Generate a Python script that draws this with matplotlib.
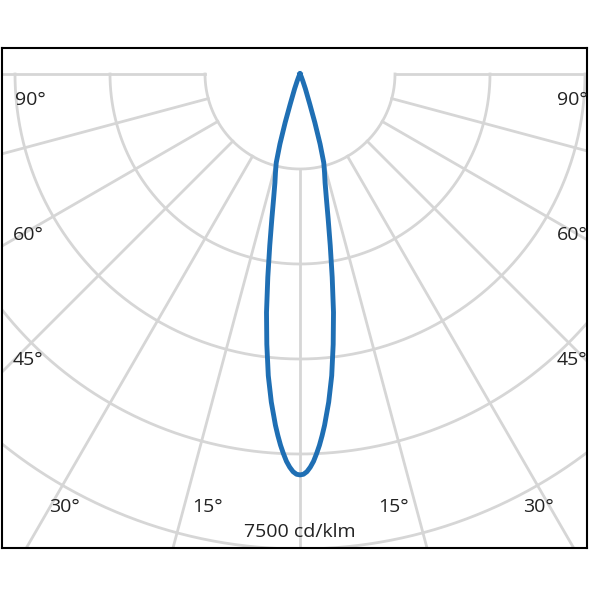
import numpy as np
import matplotlib
matplotlib.use("Agg")
import matplotlib.pyplot as plt

# Luminous intensity (cd/klm) vs angle from nadir (degrees)
angles_deg = [0, 0.5, 1, 1.5, 2, 2.5, 3, 3.5, 4, 5, 6, 7, 8, 9, 10, 11, 12, 13, 14, 15, 16, 17, 18, 20, 22, 25, 30, 90]
intensity_blue = [6330, 6320, 6280, 6210, 6120, 6000, 5870, 5720, 5560, 5200, 4790, 4300, 3800, 3250,
                  2750, 2330, 2000, 1760, 1600, 1450, 1150, 800, 500, 250, 120, 50, 0, 0]
intensity_red = [6330, 6320, 6275, 6200, 6105, 5985, 5855, 5705, 5545, 5185, 4775, 4290, 3790, 3240,
                 2745, 2325, 1995, 1755, 1595, 1445, 1145, 795, 500, 250, 120, 50, 0, 0]
ring_values = [1500, 3000, 4500, 6000, 7500, 9000]
grid_angles = list(range(-90, 91, 15))
scale_label = "7500 cd/klm"
angle_labels = [("90°", 30, 100), ("90°", 572, 100), ("60°", 28, 235), ("60°", 572, 235),
                ("45°", 28, 360), ("45°", 572, 360), ("30°", 64, 507), ("15°", 208, 507),
                ("15°", 394, 507), ("30°", 538, 507)]

px = 7500 / 475.0  # cd per pixel
fig = plt.figure(figsize=(6, 6), dpi=100)
ax = fig.add_axes([2/600, 52/600, 585/600, 500/600])
ax.set_xlim((2-300)*px, (587-300)*px)
ax.set_ylim((548-74)*px, (48-74)*px)
ax.set_xticks([]); ax.set_yticks([])
for s in ax.spines.values():
    s.set_linewidth(1.5); s.set_color("black")

gc = "#d6d6d6"
t = np.linspace(0, np.pi, 400)
for rv in ring_values:
    ax.plot(rv*np.cos(t), rv*np.sin(t), color=gc, lw=2, zorder=1)
for a in grid_angles:
    ar = np.radians(a)
    ax.plot([ring_values[0]*np.sin(ar), 12000*np.sin(ar)],
            [ring_values[0]*np.cos(ar), 12000*np.cos(ar)], color=gc, lw=2, zorder=1)

def curve(vals):
    a = np.array(angles_deg); v = np.array(vals)
    aa = np.concatenate([-a[::-1], a[1:]])
    vv = np.concatenate([v[::-1], v[1:]])
    ar = np.radians(aa)
    return vv*np.sin(ar), vv*np.cos(ar)

x, y = curve(intensity_red)
ax.plot(x, y, color="#e0202a", lw=1.5, zorder=2)
x, y = curve(intensity_blue)
ax.plot(x, y, color="#1f6fb4", lw=3.5, zorder=3, solid_joinstyle="round")

for txt, xp, yp in angle_labels:
    fig.text(xp/600, 1-yp/600, txt, ha="center", va="center", fontsize=14,
             color="#222222", family="Open Sans")
fig.text(300/600, 1-532/600, scale_label, ha="center", va="center", fontsize=14,
         color="#222222", family="Open Sans")

fig.savefig("out.png", dpi=100, facecolor="white")
